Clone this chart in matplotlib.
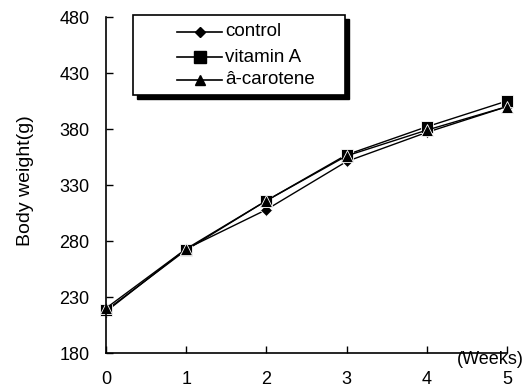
import matplotlib
matplotlib.use("Agg")
import matplotlib.pyplot as plt
from matplotlib.lines import Line2D
from matplotlib.patches import Rectangle

# data
weeks = [0, 1, 2, 3, 4, 5]
control = [217, 273, 308, 351, 377, 400]
vitamin_a = [218, 272, 316, 357, 382, 405]
carotene = [220, 273, 316, 356, 379, 400]
y_ticks = [180, 230, 280, 330, 380, 430, 480]
names = ["control", "vitamin A", "â-carotene"]
markers = ["D", "s", "^"]

plt.rcParams['font.family'] = ['Liberation Sans', 'DejaVu Sans']

W, H = 527, 389
fig = plt.figure(figsize=(W / 100, H / 100), dpi=100)
ax = fig.add_axes([106 / W, 36 / H, 401 / W, 336 / H])


def px(x, y):
    # pixel coords (from top-left) -> figure fraction
    return x / W, 1 - y / H


for vals, m, ms in zip([control, vitamin_a, carotene], markers, [6.5, 8, 8.5]):
    ax.plot(weeks, vals, color="k", lw=1.0, marker=m, ms=ms, mfc="k", mec="white", mew=0.6,
            clip_on=False)

ax.set_xlim(0, 5)
ax.set_ylim(180, 480)
ax.set_xticks(weeks)
ax.set_yticks(y_ticks)
ax.tick_params(direction="in", length=5, width=1, labelsize=13, color="k")
ax.tick_params(axis="x", pad=13)
ax.tick_params(axis="y", pad=12)
for s in ["top", "right"]:
    ax.spines[s].set_visible(False)
for s in ["left", "bottom"]:
    ax.spines[s].set_linewidth(1.2)

fig.text(*px(26, 181), "Body weight(g)", rotation=90, ha="center", va="center", fontsize=14)
fig.text(*px(524, 360), "(Weeks)", ha="right", va="center", fontsize=13)

# legend box with solid shadow
x0, y0, x1, y1 = 133, 15, 345, 95
bl = px(x0, y1)
bw, bh = (x1 - x0) / W, (y1 - y0) / H
fig.patches.append(Rectangle((bl[0] + 4 / W, bl[1] - 4 / H), bw, bh, transform=fig.transFigure,
                             facecolor="k", edgecolor="k", zorder=5))
fig.patches.append(Rectangle(bl, bw, bh, transform=fig.transFigure,
                             facecolor="white", edgecolor="k", lw=1.2, zorder=6))
rows = [32, 57, 80]
for name, m, ms, ry in zip(names, markers, [5, 8, 7], rows):
    xa, ya = px(177, ry)
    xb, _ = px(222, ry)
    xm, _ = px(200, ry)
    fig.lines.append(Line2D([xa, xb], [ya, ya], color="k", lw=1.2, transform=fig.transFigure, zorder=7))
    fig.lines.append(Line2D([xm], [ya], color="k", marker=m, ms=ms, transform=fig.transFigure, zorder=8))
    tx, ty = px(225, ry)
    fig.text(tx, ty, name, ha="left", va="center", fontsize=13.5, zorder=9)

plt.savefig("out.png", dpi=100)
